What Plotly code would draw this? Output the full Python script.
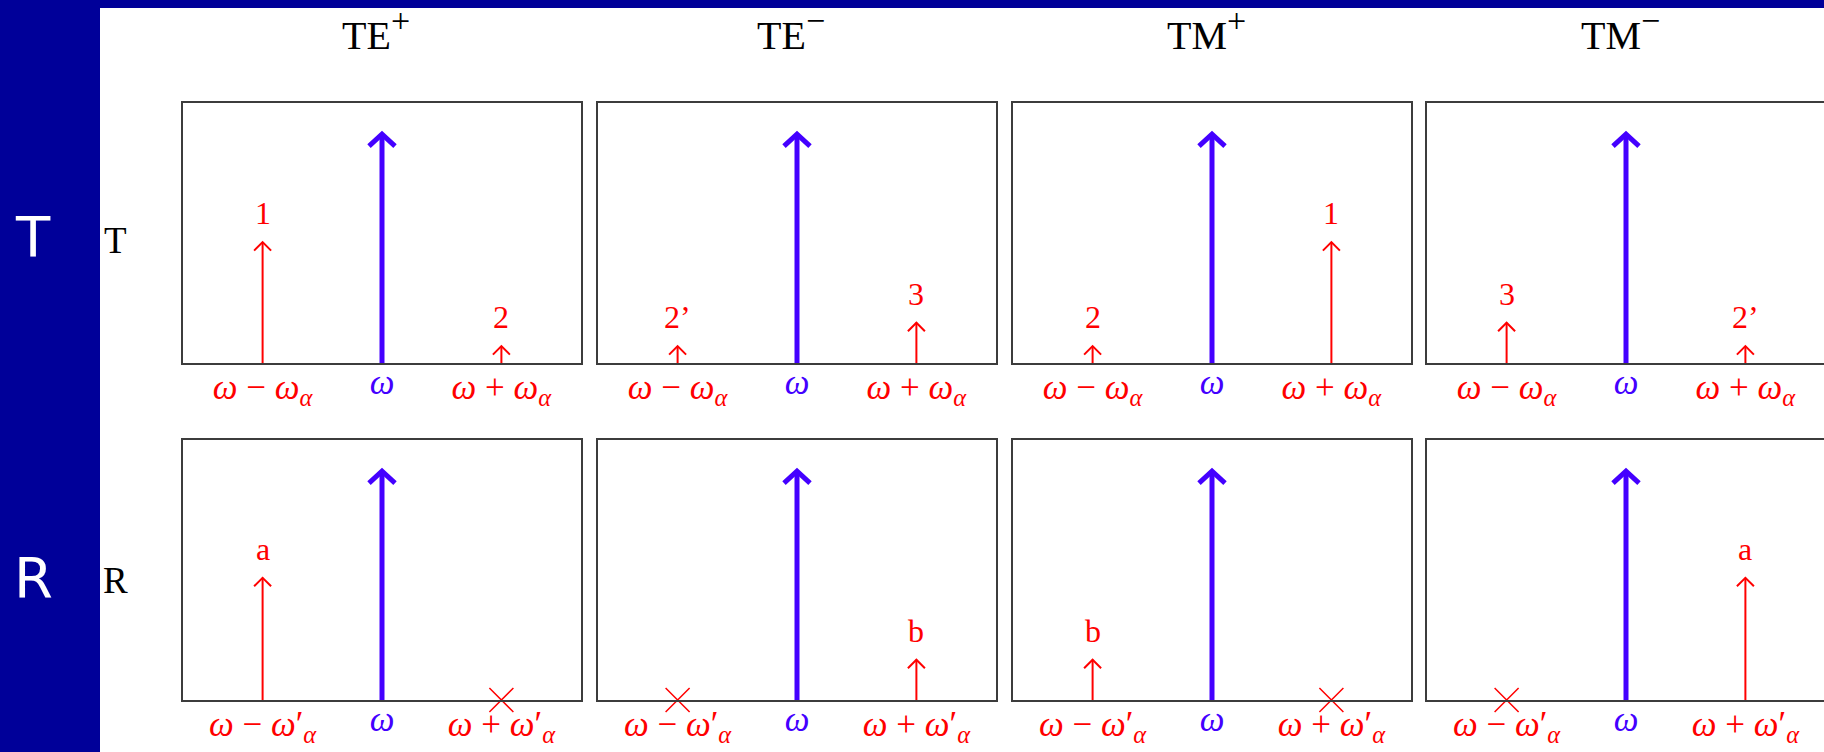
import plotly.graph_objects as go

# ---------------- data ----------------
modes = ["TE<sup>+</sup>", "TE<sup>−</sup>", "TM<sup>+</sup>", "TM<sup>−</sup>"]
row_names = ["T", "R"]
freq_offsets = [-1, 0, 1]  # in units of omega_alpha
tick_labels_T = ["<i>ω</i> − <i>ω</i><sub><i>α</i></sub>", "<i>ω</i>",
                 "<i>ω</i> + <i>ω</i><sub><i>α</i></sub>"]
tick_labels_R = ["<i>ω</i> − <i>ω</i>′<sub><i>α</i></sub>", "<i>ω</i>",
                 "<i>ω</i> + <i>ω</i>′<sub><i>α</i></sub>"]
carrier_amp = 0.88
# transmitted sidebands (lower, upper) per mode
T_lower = [0.465, 0.065, 0.065, 0.155]
T_upper = [0.065, 0.155, 0.465, 0.065]
T_lower_lbl = ["1", "2’", "2", "3"]
T_upper_lbl = ["2", "3", "1", "2’"]
# reflected sidebands (0 = suppressed, drawn as a cross)
R_lower = [0.47, 0.0, 0.155, 0.0]
R_upper = [0.0, 0.155, 0.0, 0.47]
R_lower_lbl = ["a", "", "b", ""]
R_upper_lbl = ["", "b", "", "a"]

# ---------------- style ----------------
W, H = 1824, 752
RED = "#ff0000"
BLUE = "#4400ff"
NAVY = "#000099"
FRAME = "#3c3c3c"
SERIF = "Liberation Serif"
panel_left = [183, 598, 1013, 1427]
panel_w = 398
row_top = [103, 440]
panel_h = 260
x_full = [-5 / 3, 5 / 3]
y_full = [0, 1]
px_x = (x_full[1] - x_full[0]) / panel_w   # data units per pixel
px_y = (y_full[1] - y_full[0]) / panel_h

fig = go.Figure()
annotations = []
layout = {}

rows_data = [
    (T_lower, T_upper, T_lower_lbl, T_upper_lbl, tick_labels_T),
    (R_lower, R_upper, R_lower_lbl, R_upper_lbl, tick_labels_R),
]


def tick_html(f, t):
    if f == 0:
        return (f'<span style="color:{BLUE};baseline-shift:5px">{t}</span>')
    return f'<span style="color:{RED}">{t}</span>'


for r, (lows, ups, low_l, up_l, ticks) in enumerate(rows_data):
    for c in range(4):
        k = r * 4 + c
        xn = "x" if k == 0 else f"x{k + 1}"
        yn = "y" if k == 0 else f"y{k + 1}"
        x0 = panel_left[c]
        x1 = min(x0 + panel_w, W)
        frac = (x1 - x0) / panel_w
        xr = [x_full[0], x_full[0] + (x_full[1] - x_full[0]) * frac]
        ticktext = [tick_html(f, t) for f, t in zip(freq_offsets, ticks)]
        layout["xaxis" if k == 0 else f"xaxis{k + 1}"] = dict(
            domain=[x0 / W, x1 / W], range=xr, anchor=yn,
            showgrid=False, zeroline=False, showline=True, mirror=True,
            linecolor=FRAME, linewidth=1.5, ticks="",
            tickmode="array", tickvals=freq_offsets, ticktext=ticktext,
            tickfont=dict(family=SERIF, size=35, color=RED),
            ticklabelstandoff=-8, fixedrange=True,
        )
        yb = 1 - (row_top[r] + panel_h) / H
        yt = 1 - row_top[r] / H
        layout["yaxis" if k == 0 else f"yaxis{k + 1}"] = dict(
            domain=[yb, yt], range=y_full, anchor=xn,
            showgrid=False, zeroline=False, showline=True,
            mirror=(x1 < W), linecolor=FRAME, linewidth=1.5,
            showticklabels=False, ticks="", tickmode="array", tickvals=[],
            fixedrange=True,
        )
        amps = [lows[c], carrier_amp, ups[c]]
        lbls = [low_l[c], "", up_l[c]]
        for f, a, lbl in zip(freq_offsets, amps, lbls):
            carrier = f == 0
            color = BLUE if carrier else RED
            width = 5 if carrier else 2
            hw = (13 if carrier else 8.5) * px_x   # half width of arrow head
            hh = (12 if carrier else 8.5) * px_y   # height of arrow head
            if a > 0:
                fig.add_trace(go.Scatter(
                    x=[f, f, None, f - hw, f, f + hw],
                    y=[0, a, None, a - hh, a, a - hh],
                    mode="lines", connectgaps=False,
                    line=dict(color=color, width=width),
                    xaxis=xn, yaxis=yn, hoverinfo="skip", showlegend=False))
                if lbl:
                    annotations.append(dict(
                        x=f, y=a, xref=xn, yref=yn, text=lbl, showarrow=False,
                        yshift=29, font=dict(family=SERIF, size=32, color=RED)))
            else:
                fig.add_trace(go.Scatter(
                    x=[f], y=[0], mode="markers", cliponaxis=False,
                    marker=dict(symbol="x-thin", size=24, color=RED,
                                line=dict(color=RED, width=1.5)),
                    xaxis=xn, yaxis=yn, hoverinfo="skip", showlegend=False))

# column titles
for c, m in enumerate(modes):
    base, sup = m.split("<sup>")
    sup = sup.replace("</sup>", "")
    annotations.append(dict(
        x=(panel_left[c] + panel_w / 2 - 6) / W, y=1 - 30 / H,
        xref="paper", yref="paper",
        text=f'{base}<sup><span style="font-size:34px">{sup}</span></sup>',
        showarrow=False, xanchor="center", yanchor="middle",
        font=dict(family=SERIF, size=40, color="black")))

# row labels
badge_y = [236, 577]
label_y = [240, 580]
for r, name in enumerate(row_names):
    annotations.append(dict(
        x=115 / W, y=1 - label_y[r] / H, xref="paper", yref="paper", text=name,
        showarrow=False, xanchor="center", yanchor="middle",
        font=dict(family=SERIF, size=37, color="black")))
    annotations.append(dict(
        x=33 / W, y=1 - badge_y[r] / H, xref="paper", yref="paper", text=name,
        showarrow=False, xanchor="center", yanchor="middle",
        font=dict(family="DejaVu Sans", size=56, color="white")))

shapes = [
    dict(type="rect", xref="paper", yref="paper", x0=0, x1=100 / W, y0=0, y1=1,
         fillcolor=NAVY, line=dict(width=0), layer="below"),
    dict(type="rect", xref="paper", yref="paper", x0=0, x1=1, y0=1 - 8 / H, y1=1,
         fillcolor=NAVY, line=dict(width=0), layer="below"),
]

fig.update_layout(
    width=W, height=H, margin=dict(l=0, r=0, t=0, b=0),
    paper_bgcolor="white", plot_bgcolor="white",
    showlegend=False, annotations=annotations, shapes=shapes, **layout)

fig.write_html("out.html", config={"displayModeBar": False},
               post_script="document.body.style.margin='0';"
                           "document.body.style.overflow='hidden';")
